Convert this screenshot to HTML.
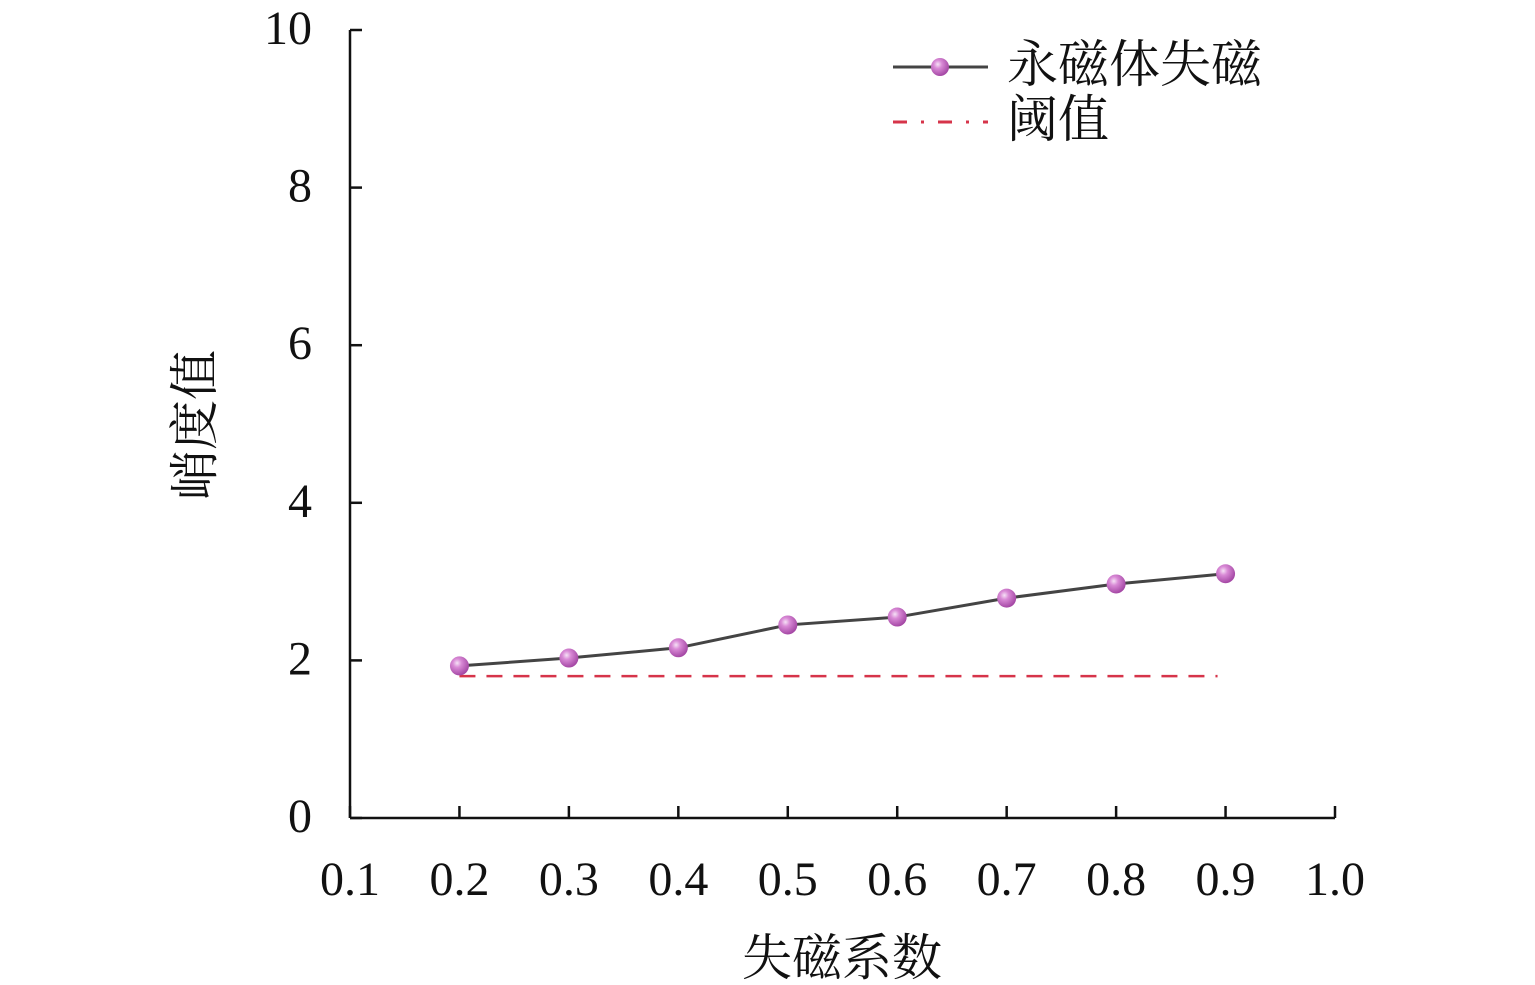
<!DOCTYPE html>
<html><head><meta charset="utf-8">
<style>
html,body{margin:0;padding:0;background:#fff;}
svg{display:block;}
text{font-family:"Liberation Serif","Noto Serif CJK SC",serif;fill:#111;}
</style></head>
<body>
<svg id="chart" width="1535" height="985" viewBox="0 0 1535 985">
<defs>
<radialGradient id="ball" cx="0.38" cy="0.35" r="0.65">
<stop offset="0" stop-color="#f6e2f6"/>
<stop offset="0.35" stop-color="#d98ad6"/>
<stop offset="1" stop-color="#a548a5"/>
</radialGradient>
</defs>
<g id="axes"></g>
<g id="marks"></g>
<g>
<line x1="893" y1="67" x2="988" y2="67" stroke="#444" stroke-width="3"/>
<circle cx="940" cy="67" r="9" fill="url(#ball)"/>
<text x="1007" y="82" font-size="51">永磁体失磁</text>
<line x1="893" y1="122" x2="988" y2="122" stroke="#d6344a" stroke-width="3" stroke-dasharray="14,14,3,14"/>
<text x="1007" y="137" font-size="51">阈值</text>
</g>
<text x="842" y="975" font-size="50" text-anchor="middle">失磁系数</text>
<text transform="translate(212,425) rotate(-90)" font-size="50" text-anchor="middle">峭度值</text>
</svg>
<script>
const xTicks = [0.1,0.2,0.3,0.4,0.5,0.6,0.7,0.8,0.9,1.0];
const xTickLabels = ["0.1","0.2","0.3","0.4","0.5","0.6","0.7","0.8","0.9","1.0"];
const yTicks = [0,2,4,6,8,10];
const yTickLabels = ["0","2","4","6","8","10"];
const categories = [0.2,0.3,0.4,0.5,0.6,0.7,0.8,0.9];
const kurtosisValues = [1.93,2.03,2.16,2.45,2.55,2.79,2.97,3.10];
const thresholdValue = 1.80;
const thresholdRange = [0.2,0.9];

const NS="http://www.w3.org/2000/svg";
function xs(v){return 350+(v-0.1)/0.9*985;}
function ys(v){return 818-v/10*788;}
function mk(tag,attrs,parent){const e=document.createElementNS(NS,tag);for(const k in attrs)e.setAttribute(k,attrs[k]);parent.appendChild(e);return e;}
const axes=document.getElementById('axes');
const marks=document.getElementById('marks');

let a=mk('line',{x1:350,y1:ys(0),x2:1335,y2:ys(0),stroke:'#111','stroke-width':2.5},axes);


a=mk('line',{x1:350,y1:ys(0),x2:350,y2:ys(10),stroke:'#111','stroke-width':2.5},axes);



xTicks.forEach((t,i)=>{
  const x=xs(t);
  const l=mk('line',{x1:x,y1:ys(0),x2:x,y2:ys(0)-12,stroke:'#111','stroke-width':2.5},axes);
  
  
  const tx=mk('text',{x:x,y:895,'font-size':48,'text-anchor':'middle'},axes);
  tx.textContent=xTickLabels[i];
  
  
});
yTicks.forEach((t,i)=>{
  const y=ys(t);
  const l=mk('line',{x1:350,y1:y,x2:362,y2:y,stroke:'#111','stroke-width':2.5},axes);
  
  
  const tx=mk('text',{x:312,y:y+14,'font-size':48,'text-anchor':'end'},axes);
  tx.textContent=yTickLabels[i];
  
  
});

const th=mk('line',{x1:xs(thresholdRange[0]),y1:ys(thresholdValue),x2:xs(thresholdRange[1])-8,y2:ys(thresholdValue),stroke:'#d6344a','stroke-width':2.5,'stroke-dasharray':'16,11'},marks);



const pl=mk('polyline',{points:categories.map((c,i)=>xs(c)+','+ys(kurtosisValues[i])).join(' '),fill:'none',stroke:'#444','stroke-width':3},marks);


categories.forEach((c,i)=>{
  const p=mk('circle',{cx:xs(c),cy:ys(kurtosisValues[i]),r:9.5,fill:'url(#ball)'},marks);
  
  
});
</script>
</body></html>
